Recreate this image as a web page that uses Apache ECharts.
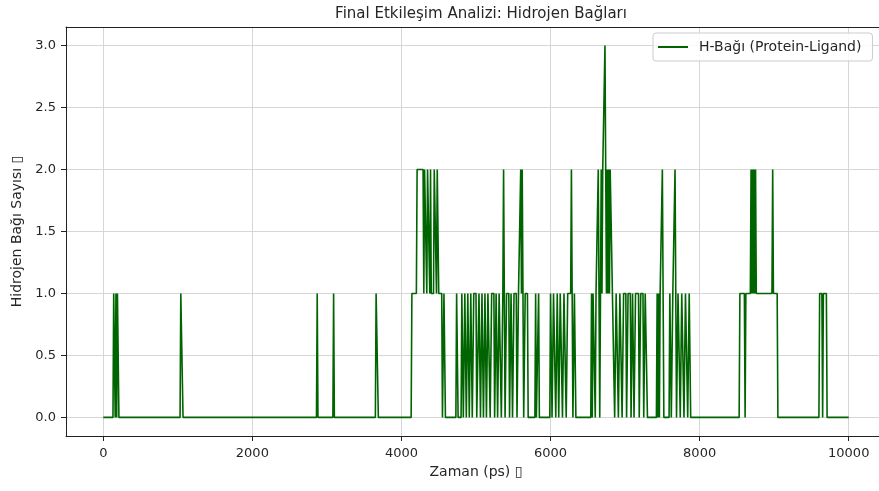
<!DOCTYPE html>
<html>
<head>
<meta charset="utf-8">
<script src="https://cdn.jsdelivr.net/npm/echarts@6/dist/echarts.min.js"></script>
<style>
  html, body { margin: 0; padding: 0; background: #ffffff; overflow: hidden; width: 879px; height: 491px; }
  #chart { width: 890px; height: 491px; }
</style>
</head>
<body>
<div id="chart"></div>
<script>
// Labels
const chartTitle = 'Final Etkileşim Analizi: Hidrojen Bağları';
const seriesName = 'H-Bağı (Protein-Ligand)';
const xAxisName = 'Zaman (ps) ▯';
const yAxisName = 'Hidrojen Bağı Sayısı ▯';

// Tick positions
const xTicks = [0, 2000, 4000, 6000, 8000, 10000];
const yTicks = [0, 0.5, 1, 1.5, 2, 2.5, 3];

// Hydrogen-bond count per frame, [time (ps), count]; only the frames where the
// trace turns are listed, straight runs between them are constant.
const earlyFrames = [
  [0, 0],
  [130, 0], [140, 1], [150, 1], [160, 0], [170, 1], [180, 0], [190, 1], [200, 1], [210, 0],
  [1030, 0], [1040, 1], [1060, 1], [1070, 0],
  [2860, 0], [2870, 1], [2880, 0],
  [3080, 0], [3090, 1], [3100, 0],
  [3650, 0], [3660, 1], [3680, 1], [3690, 0]
];

const boundFrames = [
  [4130, 0], [4140, 1], [4200, 1], [4210, 2], [4290, 2], [4300, 1], [4310, 2], [4330, 2],
  [4340, 1], [4350, 2], [4370, 2], [4380, 1], [4390, 2], [4400, 1], [4430, 1], [4440, 2],
  [4460, 2], [4470, 1], [4480, 2], [4490, 2], [4500, 1],
  [4540, 1], [4550, 0], [4560, 0], [4570, 1], [4580, 1], [4590, 0], [4600, 0],
  [4730, 0], [4740, 1], [4750, 1], [4760, 0], [4770, 0],
  [4800, 0], [4810, 1], [4820, 1], [4830, 0], [4840, 0], [4850, 1], [4860, 1], [4870, 0],
  [4880, 0], [4890, 1],
  [4900, 1], [4910, 0], [4920, 0], [4930, 1], [4940, 1], [4950, 0], [4960, 0], [4970, 1],
  [5000, 1], [5010, 0], [5030, 0], [5040, 1], [5050, 1], [5060, 0], [5070, 0], [5080, 1],
  [5090, 1], [5100, 0], [5110, 0], [5120, 1], [5130, 1], [5140, 0], [5150, 0], [5160, 1],
  [5180, 1], [5190, 0], [5200, 0], [5210, 1],
  [5240, 1], [5250, 0], [5260, 0], [5270, 1], [5280, 1], [5290, 0], [5300, 0], [5310, 1],
  [5330, 1], [5340, 0], [5350, 0], [5360, 1], [5370, 2], [5380, 1], [5390, 0], [5400, 0],
  [5410, 1],
  [5440, 1], [5450, 0], [5460, 0], [5470, 1], [5480, 1], [5490, 0], [5500, 0], [5510, 1],
  [5540, 1], [5550, 0], [5560, 0], [5570, 1], [5590, 1], [5600, 2], [5610, 1], [5620, 2],
  [5630, 1], [5640, 0], [5650, 0], [5660, 1], [5690, 1], [5700, 0],
  [5790, 0], [5800, 1], [5810, 0], [5830, 0], [5840, 1], [5850, 0],
  [5990, 0], [6000, 1], [6010, 1], [6020, 0], [6030, 0], [6040, 1],
  [6060, 1], [6070, 0], [6080, 0], [6090, 1], [6100, 1], [6110, 0], [6120, 0], [6130, 1],
  [6150, 1], [6160, 0], [6170, 0], [6180, 1],
  [6200, 1], [6210, 0], [6220, 0], [6230, 1], [6270, 1], [6280, 2], [6290, 1], [6300, 0],
  [6310, 0], [6320, 1], [6330, 1], [6340, 0],
  [6540, 0], [6550, 1], [6560, 0], [6570, 1], [6590, 1], [6600, 0], [6610, 1], [6630, 1],
  [6640, 2], [6650, 1], [6660, 0], [6670, 1], [6680, 2], [6690, 1], [6700, 2], [6720, 2],
  [6730, 3], [6740, 2], [6750, 1], [6760, 2], [6770, 1], [6780, 2], [6790, 1], [6800, 2],
  [6820, 2], [6830, 1],
  [6850, 1], [6860, 0], [6870, 0], [6880, 1], [6900, 1], [6910, 0], [6920, 0], [6930, 1],
  [6950, 1], [6960, 0], [6970, 0], [6980, 1],
  [7010, 1], [7020, 0], [7030, 0], [7040, 1], [7070, 1], [7080, 0], [7090, 0], [7100, 1],
  [7110, 1], [7120, 0], [7130, 0], [7140, 1],
  [7180, 1], [7190, 0], [7200, 0], [7210, 1], [7240, 1], [7250, 0], [7260, 0], [7270, 1],
  [7290, 1], [7300, 0],
  [7420, 0], [7430, 1], [7440, 0], [7450, 1], [7460, 0], [7470, 1], [7490, 1], [7500, 2],
  [7510, 1], [7520, 0],
  [7590, 0], [7600, 1], [7610, 1], [7620, 0], [7630, 0], [7640, 1], [7660, 1], [7670, 2],
  [7680, 1], [7690, 0], [7700, 0], [7710, 1],
  [7730, 1], [7740, 0], [7750, 0], [7760, 1], [7780, 1], [7790, 0], [7800, 0], [7810, 1],
  [7830, 1], [7840, 0], [7850, 0], [7860, 1], [7870, 1], [7880, 0]
];

const lateFrames = [
  [8530, 0], [8540, 1], [8600, 1], [8610, 0], [8620, 1], [8680, 1], [8690, 2], [8700, 1],
  [8710, 2], [8720, 1], [8730, 2], [8740, 1], [8750, 2], [8760, 1], [8970, 1], [8980, 2],
  [8990, 1], [9040, 1], [9050, 0],
  [9600, 0], [9610, 1], [9640, 1], [9650, 0], [9660, 1], [9700, 1], [9710, 0],
  [10000, 0]
];

const hbondFrames = earlyFrames.concat(boundFrames, lateFrames);

const FONT = 'DejaVu Sans';
const INK = '#262626';
const SPINE = '#222222';

const chart = echarts.init(document.getElementById('chart'), null, { renderer: 'canvas' });

chart.setOption({
  animation: false,
  backgroundColor: '#ffffff',
  title: {
    text: chartTitle,
    left: 476,
    textAlign: 'center',
    top: 2,
    textStyle: { fontFamily: FONT, fontSize: 15, fontWeight: 'normal', color: INK }
  },
  legend: {
    data: [seriesName],
    left: 653,
    top: 33,
    orient: 'vertical',
    icon: 'rect',
    itemWidth: 30,
    itemHeight: 2,
    padding: [7, 11, 7, 5],
    backgroundColor: 'rgba(255,255,255,0.85)',
    borderColor: '#cccccc',
    borderWidth: 1,
    borderRadius: 3,
    textStyle: { fontFamily: FONT, fontSize: 14, color: INK, padding: [0, 0, 0, 6] }
  },
  grid: {
    left: 66,
    top: 27,
    width: 820,
    height: 409
  },
  xAxis: [{
    type: 'value',
    min: -500,
    max: 10500,
    name: xAxisName,
    nameLocation: 'middle',
    nameGap: 27,
    nameTextStyle: { fontFamily: FONT, fontSize: 14, color: INK },
    axisLine: { show: true, onZero: false, lineStyle: { color: SPINE, width: 1 } },
    axisTick: { show: true, customValues: xTicks, length: 5, lineStyle: { color: SPINE } },
    axisLabel: {
      customValues: xTicks,
      margin: 11,
      fontFamily: FONT,
      fontSize: 13,
      color: INK,
      formatter: v => String(v)
    },
    splitLine: { show: true, lineStyle: { color: '#d6d6d6', width: 1 } }
  }, {
    // top spine only
    type: 'value',
    position: 'top',
    min: -500,
    max: 10500,
    axisLine: { show: true, onZero: false, lineStyle: { color: SPINE, width: 1 } },
    axisTick: { show: false },
    axisLabel: { show: false },
    splitLine: { show: false }
  }],
  yAxis: {
    type: 'value',
    min: -0.15,
    max: 3.15,
    name: yAxisName,
    nameLocation: 'middle',
    nameGap: 36,
    nameTextStyle: { fontFamily: FONT, fontSize: 14, color: INK },
    axisLine: { show: true, onZero: false, lineStyle: { color: SPINE, width: 1 } },
    axisTick: { show: true, customValues: yTicks, length: 5, lineStyle: { color: SPINE } },
    axisLabel: {
      customValues: yTicks,
      margin: 10,
      fontFamily: FONT,
      fontSize: 13,
      color: INK,
      formatter: v => v.toFixed(1)
    },
    splitLine: { show: true, lineStyle: { color: '#d6d6d6', width: 1 } }
  },
  series: [{
    name: seriesName,
    type: 'line',
    xAxisIndex: 0,
    data: hbondFrames,
    showSymbol: false,
    symbol: 'none',
    clip: true,
    color: '#006400',
    lineStyle: { color: '#006400', width: 1.6 },
    z: 3
  }]
});
</script>
</body>
</html>
